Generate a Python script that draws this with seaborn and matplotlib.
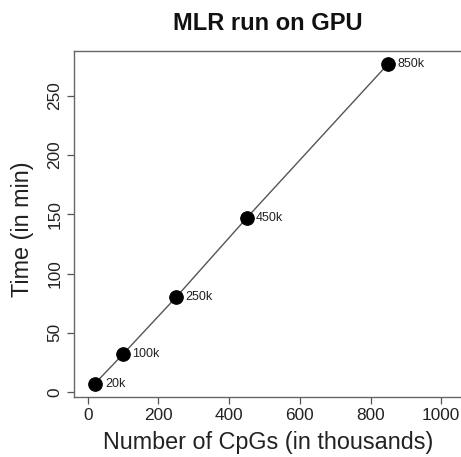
import matplotlib
matplotlib.use("Agg")
import matplotlib.pyplot as plt
import seaborn as sns
import pandas as pd

cpgs = [20, 100, 250, 450, 850]
minutes = [7, 32, 80, 147, 277]
point_labels = ["20k", "100k", "250k", "450k", "850k"]
x_ticks = [0, 200, 400, 600, 800, 1000]
y_ticks = [0, 50, 100, 150, 200, 250]

sns.set_theme(style="white")
plt.rcParams['font.family'] = ['Liberation Sans', 'DejaVu Sans']

df = pd.DataFrame({"cpgs": cpgs, "minutes": minutes, "label": point_labels})

W, H = 461, 457
fig = plt.figure(figsize=(W / 100, H / 100), dpi=100)
# axes in pixel terms: left 73.6, bottom 396.5, top 51; runs to the right edge
px_per_x = 0.3535
left_px = 73.6
x_left = -40
width_px = W - left_px
xlim = (x_left, x_left + width_px / px_per_x)
bottom_px = 396.5
top_px = 51
ax = fig.add_axes([left_px / W, (H - bottom_px) / H, width_px / W, (bottom_px - top_px) / H])

sns.lineplot(data=df, x="cpgs", y="minutes", ax=ax, color="#555555", linewidth=1.0)
sns.scatterplot(data=df, x="cpgs", y="minutes", ax=ax, color="black", s=95, edgecolor="black", zorder=3)

offsets = [11, 9, 9, 9, 9]
for x, y, lab, off in zip(df.cpgs, df.minutes, df.label, offsets):
    ax.annotate(lab, (x, y), xytext=(off * 0.72, 0), textcoords="offset points",
                ha="left", va="center", fontsize=9, color="#222222")

ax.set_xlim(*xlim)
ax.set_ylim(-3.8, 287.8)
ax.set_xticks(x_ticks)
ax.set_yticks(y_ticks)
ax.set_xticklabels([str(v) for v in x_ticks])
ax.set_yticklabels([str(v) for v in y_ticks])
ax.tick_params(axis="both", which="both", direction="out", length=5, width=0.9,
               color="#555555", labelsize=12.4, labelcolor="#222222", pad=3,
               bottom=True, left=True)
ax.tick_params(axis="y", labelrotation=90)
for lab in ax.get_yticklabels():
    lab.set_va("center")
ax.set_xlabel("")
ax.set_ylabel("")
for side in ["left", "bottom", "top"]:
    ax.spines[side].set_color("#666666")
    ax.spines[side].set_linewidth(1.0)
    ax.spines[side].set_visible(True)
ax.spines["right"].set_visible(False)
ax.grid(False)

fig.text(267.5 / W, 1 - 24 / H, "MLR run on GPU", ha="center", va="center",
         fontsize=17, fontweight="bold", color="#111111")
fig.text(268.5 / W, 1 - 442 / H, "Number of CpGs (in thousands)", ha="center", va="center",
         fontsize=16.8, color="#222222")
fig.text(22 / W, 1 - 229 / H, "Time (in min)", ha="center", va="center",
         fontsize=16.8, color="#222222", rotation=90)

fig.savefig("out.png", dpi=100)
